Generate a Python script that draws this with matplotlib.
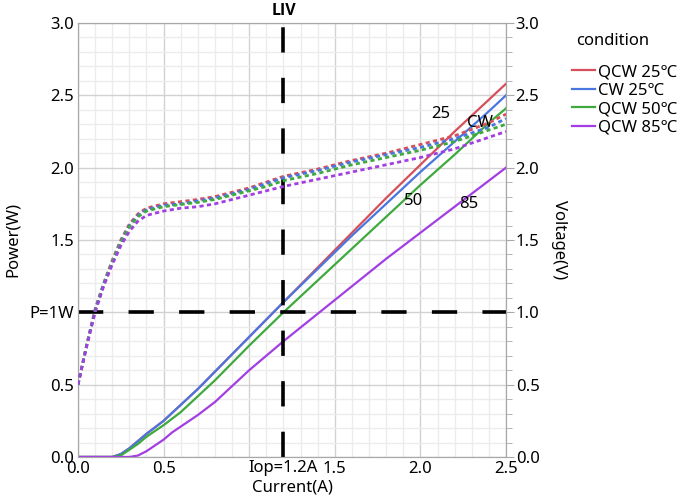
import numpy as np
import matplotlib
matplotlib.use('Agg')
import matplotlib.pyplot as plt
from matplotlib.ticker import MultipleLocator, FixedLocator

plt.rcParams['font.family'] = ['Noto Sans', 'DejaVu Sans']
plt.rcParams['font.size'] = 12

# ---------------- data ----------------
names = ['QCW 25℃', 'CW 25℃', 'QCW 50℃', 'QCW 85℃']
colors = ['#d5505a', '#4a76e0', '#3eaa3e', '#a33ee2']

# power (W) vs current (A)
i_p = [0.0, 0.2, 0.25, 0.3, 0.35, 0.4, 0.5, 0.6, 0.7, 0.8, 0.9, 1.0, 1.2, 1.4, 1.6, 1.8, 2.0, 2.2, 2.4, 2.5]
p_qcw25 = [0.0, 0.0, 0.02, 0.06, 0.11, 0.16, 0.25, 0.36, 0.47, 0.59, 0.71, 0.83, 1.07, 1.31, 1.55, 1.79, 2.02, 2.25, 2.47, 2.58]
p_cw25 = [0.0, 0.0, 0.02, 0.06, 0.11, 0.16, 0.25, 0.36, 0.47, 0.59, 0.71, 0.83, 1.07, 1.30, 1.53, 1.75, 1.97, 2.18, 2.39, 2.50]
p_qcw50 = [0.0, 0.0, 0.01, 0.05, 0.09, 0.14, 0.22, 0.31, 0.42, 0.53, 0.65, 0.77, 1.00, 1.22, 1.44, 1.66, 1.88, 2.09, 2.31, 2.41]
i_p85 = [0.0, 0.3, 0.35, 0.4, 0.45, 0.5, 0.55, 0.6, 0.7, 0.8, 0.9, 1.0, 1.1, 1.2, 1.4, 1.6, 1.8, 2.0, 2.2, 2.4, 2.5]
p_qcw85 = [0.0, 0.0, 0.01, 0.04, 0.08, 0.12, 0.17, 0.21, 0.29, 0.38, 0.49, 0.60, 0.70, 0.80, 0.99, 1.18, 1.37, 1.55, 1.73, 1.91, 2.00]

# voltage (V) vs current (A)
i_v = [0.0, 0.05, 0.1, 0.15, 0.2, 0.25, 0.3, 0.35, 0.4, 0.5, 0.6, 0.7, 0.8, 0.9, 1.0, 1.1, 1.2, 1.4, 1.6, 1.8, 2.0, 2.2, 2.4, 2.5]
v_qcw25 = [0.5, 0.77, 1.02, 1.20, 1.36, 1.50, 1.61, 1.68, 1.72, 1.75, 1.765, 1.78, 1.80, 1.83, 1.86, 1.90, 1.94, 1.99, 2.05, 2.10, 2.16, 2.22, 2.31, 2.37]
v_cw25 = [0.5, 0.77, 1.02, 1.20, 1.35, 1.49, 1.60, 1.67, 1.71, 1.74, 1.75, 1.77, 1.79, 1.82, 1.85, 1.89, 1.93, 1.98, 2.04, 2.09, 2.14, 2.20, 2.28, 2.34]
v_qcw50 = [0.5, 0.77, 1.01, 1.19, 1.35, 1.48, 1.59, 1.66, 1.70, 1.73, 1.745, 1.76, 1.78, 1.81, 1.84, 1.87, 1.91, 1.96, 2.02, 2.07, 2.12, 2.18, 2.26, 2.30]
v_qcw85 = [0.5, 0.76, 1.00, 1.18, 1.33, 1.46, 1.56, 1.63, 1.67, 1.70, 1.72, 1.73, 1.75, 1.78, 1.81, 1.84, 1.87, 1.92, 1.97, 2.02, 2.07, 2.13, 2.21, 2.25]

x_ticks = [0.0, 0.5, 1.0, 1.5, 2.0, 2.5]
x_labels = ['0.0', '0.5', '', '1.5', '2.0', '2.5']
y_ticks = [0.0, 0.5, 1.0, 1.5, 2.0, 2.5, 3.0]
y_labels = ['0.0', '0.5', 'P=1W', '1.5', '2.0', '2.5', '3.0']
i_op = 1.2
p_ref = 1.0

# ---------------- figure ----------------
fig = plt.figure(figsize=(6.99, 5.03), dpi=100)
ax = fig.add_axes([0.1116, 0.0915, 0.6123, 0.8628])
ax2 = ax.twinx()

spine_c = '#a8a8a8'
for a in (ax, ax2):
    for s in a.spines.values():
        s.set_color(spine_c)

ax.set_xlim(0, 2.5)
ax.set_ylim(0, 3.0)
ax2.set_ylim(0, 3.0)

ax.xaxis.set_major_locator(FixedLocator(x_ticks))
ax.set_xticklabels(x_labels)
ax.xaxis.set_minor_locator(MultipleLocator(0.1))
ax.yaxis.set_major_locator(FixedLocator(y_ticks))
ax.set_yticklabels(y_labels)
ax.yaxis.set_minor_locator(MultipleLocator(0.1))
ax.tick_params(which='both', length=0, pad=3)
ax.grid(which='major', color='#d2d2d2', lw=1.0)
ax.grid(which='minor', color='#ececec', lw=1.0)
ax.set_axisbelow(True)

ax2.yaxis.set_minor_locator(MultipleLocator(0.1))
ax2.set_yticks(y_ticks)
ax2.set_yticklabels(['%.1f' % v for v in y_ticks])
ax2.tick_params(which='major', length=6, color=spine_c, pad=1)
ax2.tick_params(which='minor', length=4, color=spine_c)

# reference lines
ax.plot([i_op, i_op], [0, 3.0], color='black', lw=2.6, dashes=(7, 7), zorder=5)
ax.plot([0, 2.5], [p_ref, p_ref], color='black', lw=2.6, dashes=(7, 7), zorder=5)

# power curves
powers = [(i_p, p_qcw25), (i_p, p_cw25), (i_p, p_qcw50), (i_p85, p_qcw85)]
handles = []
for (xx, yy), c, n in zip(powers, colors, names):
    h, = ax.plot(xx, yy, color=c, lw=1.6, label=n, zorder=3)
    handles.append(h)

# voltage curves
volts = [v_qcw25, v_cw25, v_qcw50, v_qcw85]
for vv, c in zip(volts, colors):
    ax2.plot(i_v, vv, color=c, lw=2.0, dashes=(1.5, 1.2), zorder=3)

ax.text(i_op, -0.008, 'Iop=1.2A', transform=ax.get_xaxis_transform(),
        ha='center', va='top')

ax.set_xlabel('Current(A)', labelpad=2)
ax.set_ylabel('Power(W)', labelpad=6)
ax2.set_ylabel('Voltage(V)', rotation=270, labelpad=20)
ax.text(i_op, 1.01, 'LIV', transform=ax.get_xaxis_transform(),
        ha='center', va='bottom', fontsize=11.5, fontweight='bold',
        family=['Open Sans', 'DejaVu Sans'])

# curve annotations
ax.text(2.12, 2.37, '25', ha='center', va='center')
ax.text(2.35, 2.31, 'CW', ha='center', va='center')
ax.text(1.96, 1.77, '50', ha='center', va='center')
ax.text(2.28, 1.75, '85', ha='center', va='center')

fig.text(576 / 699, 1 - 41 / 503, 'condition', ha='left', va='center')
fig.legend(handles=handles, labels=names, loc='upper left',
           bbox_to_anchor=(0.806, 1 - 56 / 503), frameon=False, handlelength=1.4,
           handletextpad=0.15, labelspacing=0.15, borderpad=0.0)

fig.savefig('out.png', dpi=100)
